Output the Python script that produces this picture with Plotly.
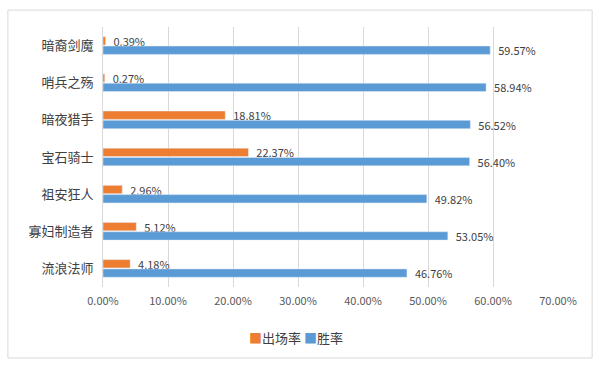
import plotly.graph_objects as go

categories = ["暗裔剑魔", "哨兵之殇", "暗夜猎手", "宝石骑士", "祖安狂人", "寡妇制造者", "流浪法师"]
appear_rate = [0.39, 0.27, 18.81, 22.37, 2.96, 5.12, 4.18]
win_rate = [59.57, 58.94, 56.52, 56.40, 49.82, 53.05, 46.76]
tick_vals = [0, 10, 20, 30, 40, 50, 60, 70]
tick_text = ["0.00%", "10.00%", "20.00%", "30.00%", "40.00%", "50.00%", "60.00%", "70.00%"]
series_names = ["出场率", "胜率"]
series_colors = ["#ED7D31", "#5B9BD5"]

FONT = "Noto Sans CJK SC, Microsoft YaHei, sans-serif"

fig = go.Figure()
for name, vals, col in zip(series_names, [appear_rate, win_rate], series_colors):
    fig.add_trace(go.Bar(
        y=categories, x=vals, orientation="h", name=name,
        marker=dict(color=col),
        texttemplate="  %{x:.2f}%", textposition="outside", cliponaxis=False, constraintext="none",
        textfont=dict(size=11, color="#404040", family=FONT),
        showlegend=False,
    ))

legend_text = "".join(
    f"<span style='color:{c}'>■</span>{n} " for n, c in zip(series_names, series_colors)
).strip()

fig.update_layout(
    width=600, height=367,
    margin=dict(l=103, r=42, t=27, b=80),
    paper_bgcolor="white", plot_bgcolor="white",
    barmode="group", bargap=0.5, bargroupgap=0.1,
    font=dict(family=FONT, color="#595959"),
    xaxis=dict(range=[0, 70], tickvals=tick_vals, ticktext=tick_text,
               showgrid=True, gridcolor="#D9D9D9", gridwidth=1, zeroline=False,
               showline=False, tickfont=dict(size=11, color="#595959"), ticks="",
               ticklabelstandoff=6),
    yaxis=dict(autorange="reversed", showgrid=False, showline=True, linecolor="#D9D9D9",
               tickfont=dict(size=13, color="#404040"), ticks="", ticklabelstandoff=6),
    annotations=[dict(text=legend_text, xref="paper", yref="paper", x=0.425, y=-0.15,
                      xanchor="center", yanchor="top", showarrow=False,
                      font=dict(size=13, color="#404040", family=FONT))],
    shapes=[dict(type="rect", xref="paper", yref="paper",
                 x0=-0.209, x1=1.075, y0=-0.273, y1=1.065,
                 line=dict(color="#D9D9D9", width=1), fillcolor="rgba(0,0,0,0)", layer="below")],
)

fig.write_html("out.html")
